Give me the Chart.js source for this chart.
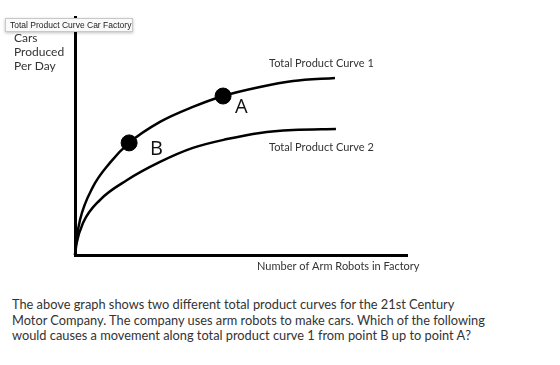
<!DOCTYPE html>
<html>
<head>
<meta charset="utf-8">
<script src="https://cdn.jsdelivr.net/npm/chart.js@4/dist/chart.umd.min.js"></script>
<style>
  body { margin: 0; background: #fff; width: 560px; height: 365px; overflow: hidden; font-family: Lato, "Open Sans", sans-serif; }
  #wrap { position: relative; width: 560px; height: 280px; }
  #tip { position: absolute; left: 5px; top: 18px; width: 122px; height: 12px; border: 1px solid #c8c8c8; background: #fafafa;
         box-shadow: 0 1px 3px rgba(0,0,0,0.25); font: 8.5px "Liberation Sans", Arial, sans-serif; color: #222; line-height: 12px; padding-left: 4px; box-sizing: content-box; }
  #question { position: absolute; left: 12px; top: 297px; width: 478px; margin: 0; font-size: 12.8px; line-height: 15.5px; color: #333; }
</style>
</head>
<body>
<div id="wrap"><canvas id="grafico" width="560" height="280"></canvas><div id="tip">Total Product Curve Car Factory</div></div>
<p id="question">The above graph shows two different total product curves for the 21st Century Motor Company. The company uses arm robots to make cars. Which of the following would causes a movement along total product curve 1 from point B up to point A?</p>
<script>
// robots (x) and cars per day (y), both on a 0..100 scale
var robots1 = [0, 0.4, 1.5, 5.4, 10.5, 16.3, 25.6, 35.5, 44.6, 55.7, 65.7, 78.3];
var cars1   = [0, 6, 14.7, 28.6, 38.7, 47.1, 55.9, 62.2, 66.8, 70.6, 73.1, 74.4];
var robots2 = [0, 0.5, 2.4, 7.5, 15.7, 25.6, 35.5, 45.8, 55.7, 65.7, 78.6];
var cars2   = [0, 5, 13.4, 23.1, 31.5, 39.1, 45.0, 48.7, 51.3, 52.5, 52.9];
var pointNames = ['B', 'A'];
var pointRobots = [16.3, 44.6];
var pointCars = [47.1, 66.8];

function pares(xs, ys) {
    var out = [];
    for (let i = 0; i < xs.length; i++) out.push({x: xs[i], y: ys[i]});
    return out;
}

// text drawn on top of the chart
var rotulos = {
    id: 'rotulos',
    afterDatasetsDraw(chart) {
        const c = chart.ctx, xs = chart.scales.x, ys = chart.scales.y;
        c.save();
        c.fillStyle = '#333';
        c.textBaseline = 'middle';
        c.font = '12px Lato, sans-serif';
        c.fillText('Cars', 14, 38);
        c.fillText('Produced', 14, 52);
        c.fillText('Per Day', 14, 66);
        c.font = '11px Lato, sans-serif';
        c.fillText('Total Product Curve 1', 269, 63);
        c.fillText('Total Product Curve 2', 269, 147);
        c.fillText('Number of Arm Robots in Factory', 257, 266);
        // A / B next to the dots
        c.fillStyle = '#111';
        c.font = '20px "Open Sans", sans-serif';
        const off = {A: [12, 11], B: [21, 6]};
        for (let i = 0; i < pointNames.length; i++) {
            const px = xs.getPixelForValue(pointRobots[i]);
            const py = ys.getPixelForValue(pointCars[i]);
            c.fillText(pointNames[i], px + off[pointNames[i]][0], py + off[pointNames[i]][1]);
        }
        c.restore();
    }
};

var ctx = document.getElementById('grafico');
var myChart = new Chart(ctx, {
    type: 'line',
    data: {
        datasets: [{
            data: pares(robots1, cars1),
            borderColor: '#000',
            borderWidth: 2.5,
            pointRadius: 0,
            cubicInterpolationMode: 'monotone',
            clip: false
        }, {
            data: pares(robots2, cars2),
            borderColor: '#000',
            borderWidth: 2.5,
            pointRadius: 0,
            cubicInterpolationMode: 'monotone',
            clip: false
        }, {
            type: 'scatter',
            data: pares(pointRobots, pointCars),
            backgroundColor: '#000',
            borderColor: '#000',
            pointRadius: 8,
            clip: false
        }]
    },
    options: {
        responsive: false,
        animation: false,
        events: [],
        layout: { padding: { left: 75, top: 17, right: 153, bottom: 25 } },
        plugins: { legend: { display: false }, tooltip: { enabled: false } },
        scales: {
            x: {
                type: 'linear', min: 0, max: 100,
                ticks: { display: false }, grid: { display: false },
                border: { display: true, color: '#000', width: 3 },
                afterFit(s) { s.height = 0; }
            },
            y: {
                min: 0, max: 100,
                ticks: { display: false }, grid: { display: false },
                border: { display: true, color: '#000', width: 3 },
                afterFit(s) { s.width = 0; }
            }
        }
    },
    plugins: [rotulos]
});
</script>
</body>
</html>
